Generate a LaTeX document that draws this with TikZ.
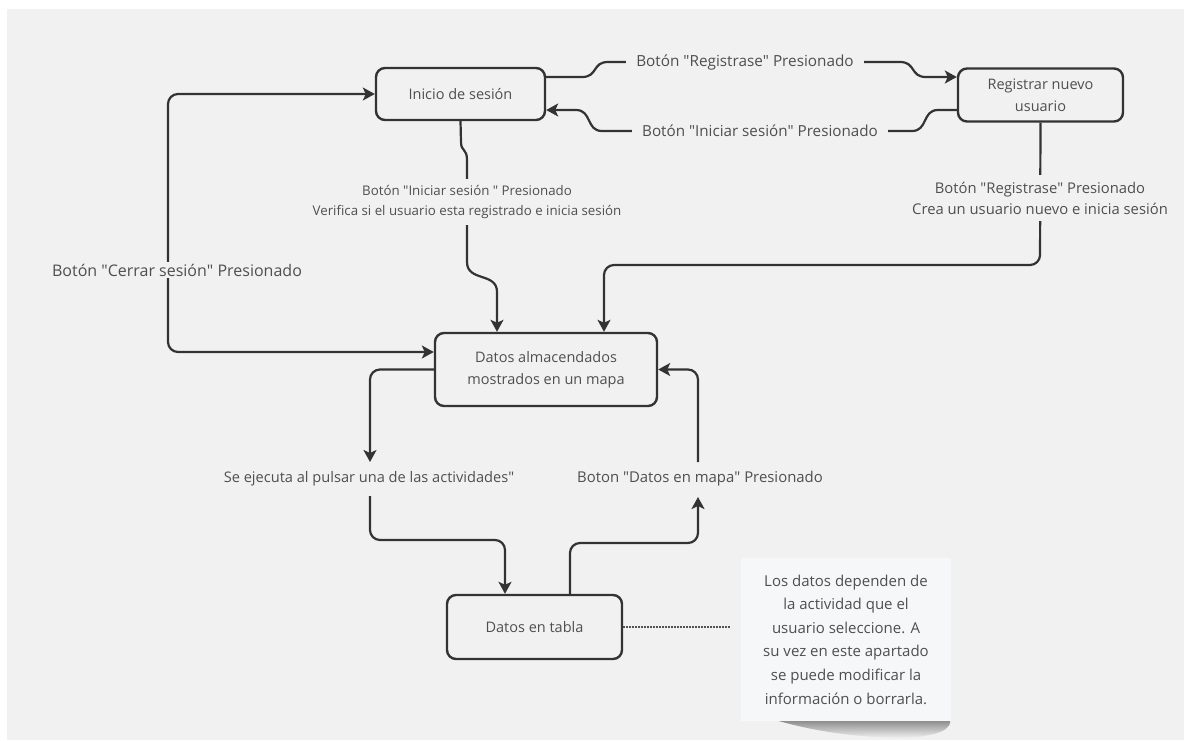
\documentclass[tikz,border=0pt]{standalone}
\usepackage{fontspec}
\setmainfont{Open Sans}
\usetikzlibrary{arrows.meta}
\definecolor{bg}{HTML}{F1F1F1}
\definecolor{linec}{HTML}{333333}
\definecolor{txt}{HTML}{4F4F4F}
\definecolor{notebg}{HTML}{F6F7F8}
\newcommand{\qt}{\textquotedbl}
\newcommand{\fsz}[1]{\fontsize{#1}{1.38\dimexpr#1pt\relax}\selectfont}
\begin{document}
\begin{tikzpicture}[x=1pt,y=-1pt,
  box/.style={draw=linec, line width=2.4pt, rounded corners=9pt, fill=bg,
    align=center, text=txt, inner sep=0pt,
    font=\fontsize{14.5}{22}\selectfont},
  conn/.style={draw=linec, line width=2.2pt},
  tip/.style={-{Stealth[length=12pt,width=13pt,inset=3pt]}},
  lbl/.style={fill=bg, text=txt, align=center, inner xsep=3pt, inner ysep=2pt},
]
% canvas
\useasboundingbox (0,0) rectangle (1184,740);
\fill[white] (0,0) rectangle (1184,740);
\fill[bg] (7,9) rectangle (1184,740);

% states
\node[box, minimum width=169pt, minimum height=52pt] (ini) at (460.5,94) {Inicio de sesión};
\node[box, minimum width=165pt, minimum height=53pt] (reg) at (1040.5,95) {Registrar nuevo\\usuario};
\node[box, minimum width=222pt, minimum height=73pt] (dat) at (546,369.5) {Datos almacendados\\mostrados en un mapa};
\node[box, minimum width=175pt, minimum height=64pt] (tab) at (534.5,627) {Datos en tabla};

% helper levels
\coordinate (y77) at (0,77);
\coordinate (y110) at (0,110);
\coordinate (y352) at (0,352);
\coordinate (x497) at (497,0);
\coordinate (x604) at (604,0);
\coordinate (x505) at (505,0);
\coordinate (x570) at (570,0);

% login -> register
\draw[conn, tip] (ini.east |- y77) -- (582,77)
  .. controls (598,77) and (592,62) .. (608,62) -- (900,62)
  .. controls (916,62) and (910,77) .. (926,77) -- (reg.west |- y77);
\node[lbl, inner xsep=10pt, font=\fsz{15.3}] (lreg) at (745,62) {Botón \qt Registrase\qt\ Presionado};

% register -> login
\draw[conn, tip] (reg.west |- y110) -- (938,110)
  .. controls (922,110) and (928,131) .. (912,131) -- (602,131)
  .. controls (586,131) and (592,110) .. (576,110) -- (ini.east |- y110);
\node[lbl, inner xsep=10pt, font=\fsz{15.2}] (lini) at (760,131) {Botón \qt Iniciar sesión\qt\ Presionado};

% login -> map
\draw[conn] (ini.south) -- (461,142) .. controls (461,152) and (467,148) .. (467,160) -- (467,200);
\draw[conn, tip] (467,200) -- (467,262) .. controls (467,282) and (497,272) .. (497,292)
  -- (dat.north -| x497);
\node[lbl, inner ysep=7pt, font=\fontsize{13.3}{19.5}\selectfont] (lver) at (467,202) {Botón \qt Iniciar sesión \qt\ Presionado\\Verifica si el usuario esta registrado e inicia sesión};

% register -> map
\draw[conn, tip, rounded corners=10pt] (reg.south) -- (1040,265) -- (604,265) -- (dat.north -| x604);
\node[lbl, inner ysep=7pt, font=\fontsize{14.8}{21}\selectfont] (lcrea) at (1040,198) {Botón \qt Registrase\qt\ Presionado\\Crea un usuario nuevo e inicia sesión};

% logout (both ways)
\draw[conn, {Stealth[length=12pt,width=13pt,inset=3pt]}-{Stealth[length=12pt,width=13pt,inset=3pt]}, rounded corners=10pt]
  (dat.west |- y352) -- (168,352) -- (168,94) -- (ini.west);
\node[lbl, inner xsep=2pt, font=\fsz{16}] (lout) at (177,270) {Botón \qt Cerrar sesión\qt\ Presionado};

% map -> table
\coordinate (mlA) at (370,462);
\coordinate (mlB) at (370,496);
\draw[conn, tip, rounded corners=10pt] (dat.west) -- (370,369.5) -- (mlA);
\node[lbl, fill=none, font=\fsz{14.6}] (lact) at (369,479) {Se ejecuta al pulsar una de las actividades\qt};
\draw[conn, tip, rounded corners=10pt] (mlB) -- (370,540) -- (505,540) -- (tab.north -| x505);

% table -> map
\coordinate (mrA) at (698,497);
\coordinate (mrB) at (698,462);
\draw[conn, tip, rounded corners=10pt] (tab.north -| x570) -- (570,543) -- (698,543) -- (mrA);
\node[lbl, fill=none, font=\fsz{14.9}] (lmap) at (700,479) {Boton \qt Datos en mapa\qt\ Presionado};
\draw[conn, tip, rounded corners=10pt] (mrB) -- (698,369.5) -- (dat.east);

% sticky note with curled shadow
\shade[top color=black!60, bottom color=bg, opacity=0.75]
  (775,720) -- (950,720) .. controls (952,728) and (940,737) .. (900,738)
  .. controls (840,737) and (800,727) .. (775,720) -- cycle;
\node[fill=notebg, minimum width=210pt, minimum height=163pt, inner sep=0pt,
  align=center, text=txt, font=\fontsize{15}{23.6}\selectfont] (note) at (846,639.5)
  {Los datos dependen de\\la actividad que el\\usuario seleccione. A\\su vez en este apartado\\se puede modificar la\\información o borrarla.};
\draw[linec!85, line width=1.5pt, dash pattern=on 1.4pt off 1.6pt] (tab.east) -- (730,627);
\end{tikzpicture}
\end{document}
